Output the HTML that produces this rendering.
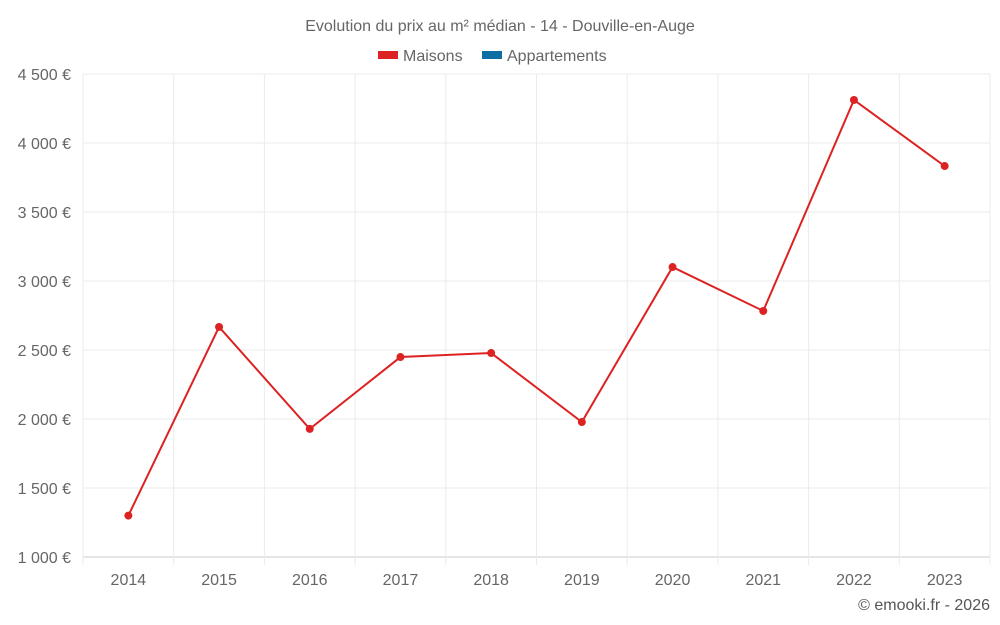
<!DOCTYPE html>
<html><head><meta charset="utf-8"><style>
body{margin:0;background:#fff;}
svg{display:block;font-family:"Liberation Sans",sans-serif;}
</style></head><body>
<svg id="chart" width="1000" height="625">
<text x="500" y="31" text-anchor="middle" font-size="16" fill="#666">Evolution du prix au m² médian - 14 - Douville-en-Auge</text>
<g>
<g><rect x="378" y="51" width="20" height="8" fill="#dd2222"/><text x="403" y="61" font-size="16" fill="#666">Maisons</text></g>
<g><rect x="482" y="51" width="20" height="8" fill="#0d6ea3"/><text x="507" y="61" font-size="16" fill="#666">Appartements</text></g>
</g>
<g id="grid"></g><g id="axes"></g><g id="series"></g>
<text x="990" y="610" text-anchor="end" font-size="16" fill="#555">© emooki.fr - 2026</text>
</svg>
<script>
const years=["2014","2015","2016","2017","2018","2019","2020","2021","2022","2023"];
const maisons=[1300,2667,1928,2449,2478,1978,3101,2783,4312,3833];
const yTicks=[1000,1500,2000,2500,3000,3500,4000,4500];
const yLabels=["1 000 €","1 500 €","2 000 €","2 500 €","3 000 €","3 500 €","4 000 €","4 500 €"];
const L=83,R=990,T=74,B=557,ymin=1000,ymax=4500;
const NS="http://www.w3.org/2000/svg";
const bw=(R-L)/years.length;
const xs=i=>L+bw*(i+0.5);
const ys=v=>B-(v-ymin)/(ymax-ymin)*(B-T);
function mk(t,a,p){const e=document.createElementNS(NS,t);for(const k in a)e.setAttribute(k,a[k]);p.appendChild(e);return e;}
const g=document.getElementById('grid'),ax=document.getElementById('axes'),s=document.getElementById('series');
yTicks.forEach((v,i)=>{
 const l=mk('line',{x1:L,x2:R,y1:ys(v),y2:ys(v),stroke:i==0?'#ccc':'#ebebeb'},g);
 
 
 const t=mk('text',{x:71,y:ys(v)+6,'text-anchor':'end','font-size':16,fill:'#666'},ax);
 t.textContent=yLabels[i];
 
 
});
for(let i=0;i<=years.length;i++){
 const x=L+bw*i;
 const l=mk('line',{x1:x,x2:x,y1:T,y2:B+8,stroke:'#ebebeb'},g);
 
 
}
years.forEach((y,i)=>{
 const t=mk('text',{x:xs(i),y:585,'text-anchor':'middle','font-size':16,fill:'#666'},ax);
 t.textContent=y;
 
 
});
const p=mk('polyline',{points:maisons.map((v,i)=>xs(i)+','+ys(v)).join(' '),fill:'none',stroke:'#dd2222','stroke-width':2},s);


maisons.forEach((v,i)=>{
 const c=mk('circle',{cx:xs(i),cy:ys(v),r:4,fill:'#dd2222'},s);
 
 
});
</script>
</body></html>
